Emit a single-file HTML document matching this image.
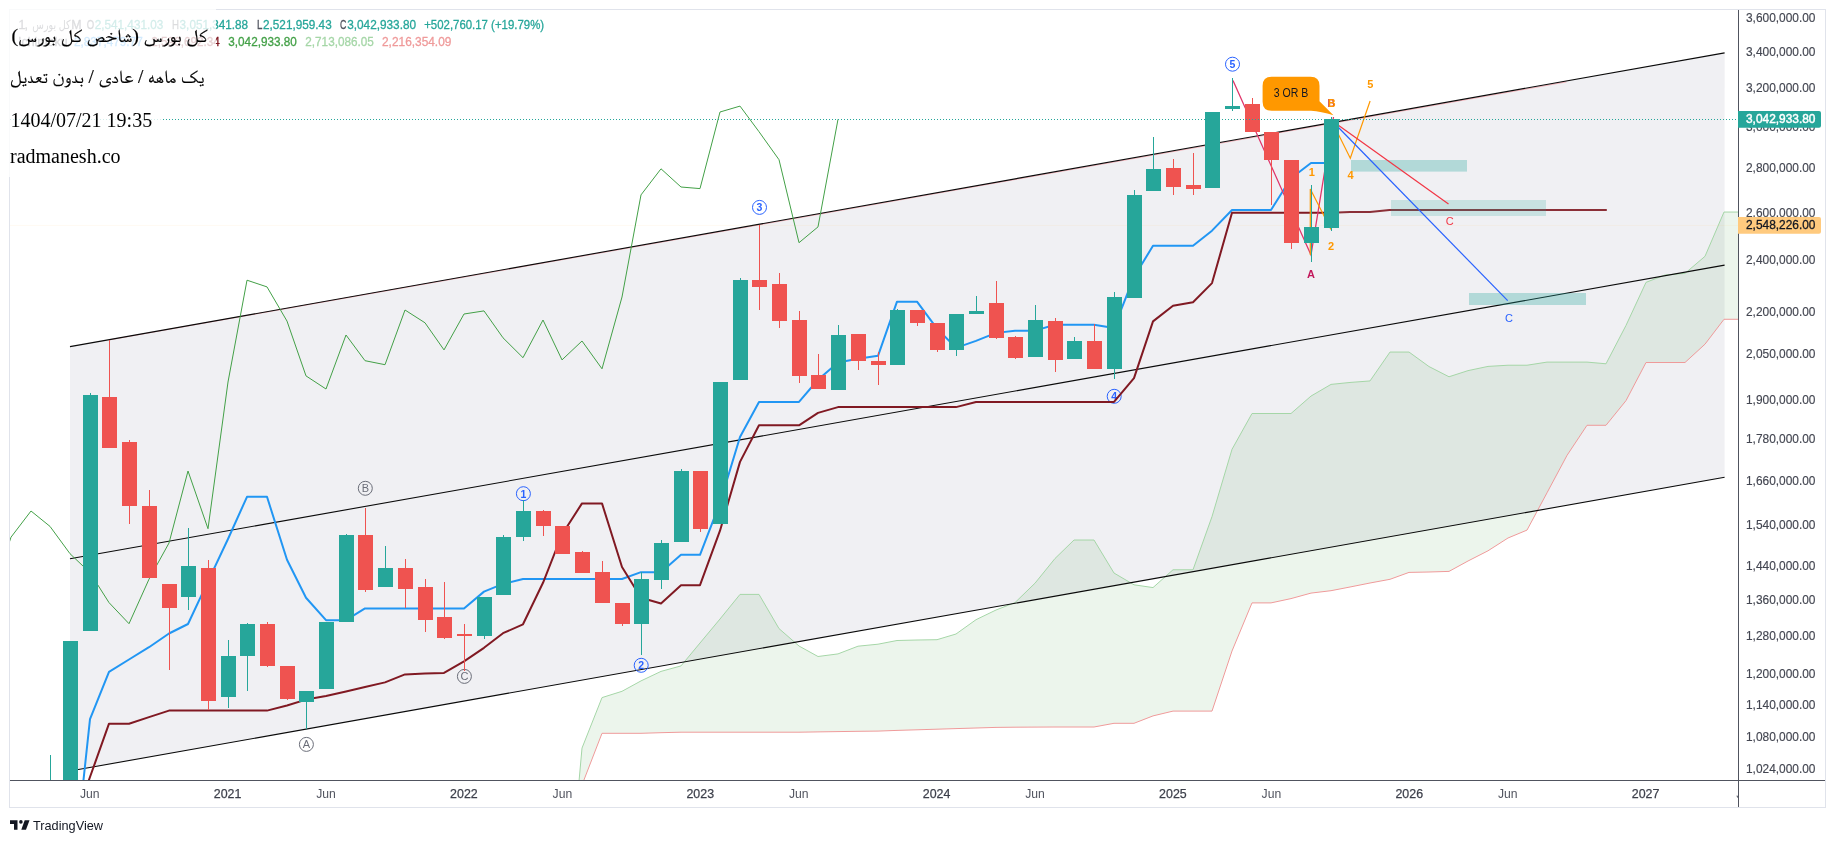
<!DOCTYPE html><html><head><meta charset="utf-8"><style>html,body{margin:0;padding:0;background:#fff;width:1836px;height:843px;overflow:hidden}svg{position:absolute;left:0;top:0;will-change:transform}</style></head><body>
<svg width="1836" height="843" viewBox="0 0 1836 843">
<defs><clipPath id="pane"><rect x="10" y="10" width="1728" height="770"/></clipPath></defs>
<g clip-path="url(#pane)">
<polygon points="70,346.6 1724.6,52.89 1724.6,477.29 70,771.0" fill="#f0f0f3"/>
<polygon points="562.00,970.00 582.00,748.10 602.00,697.60 622.00,691.30 641.00,680.90 661.00,671.40 681.00,665.90 700.00,643.00 720.00,619.00 740.00,594.40 759.00,594.40 779.00,628.60 799.00,646.00 818.00,656.50 838.00,653.90 858.00,646.20 878.00,644.20 897.00,640.50 917.00,640.00 937.00,639.70 956.00,634.00 976.00,619.70 996.00,610.00 1015.00,602.60 1035.00,583.20 1055.00,558.50 1074.00,540.03 1094.00,540.03 1114.00,573.04 1134.00,584.81 1153.00,587.58 1173.00,569.78 1193.00,569.78 1212.00,516.61 1232.00,449.32 1252.00,413.50 1271.00,413.50 1291.00,413.50 1311.00,396.07 1331.00,384.40 1350.00,382.46 1370.00,380.94 1390.00,352.05 1409.00,352.05 1429.00,366.55 1449.00,376.77 1468.00,370.64 1488.00,366.41 1508.00,365.23 1527.00,365.23 1547.00,362.10 1567.00,362.10 1587.00,362.10 1606.00,363.79 1626.00,325.42 1646.00,282.37 1665.00,274.99 1685.00,273.38 1705.00,256.31 1724.00,212.04 1744.00,212.04 1764.00,212.04 1784.00,195.86 1803.00,188.00 1823.00,188.00 1823.00,308.84 1803.00,319.28 1784.00,319.28 1764.00,319.28 1744.00,319.28 1724.00,319.28 1705.00,344.16 1685.00,362.50 1665.00,362.50 1646.00,362.50 1626.00,400.61 1606.00,425.29 1587.00,425.29 1567.00,455.40 1547.00,492.80 1527.00,530.10 1508.00,538.00 1488.00,550.80 1468.00,561.00 1449.00,571.40 1429.00,572.00 1409.00,572.40 1390.00,579.30 1370.00,583.00 1350.00,587.00 1331.00,590.70 1311.00,593.10 1291.00,598.60 1271.00,602.90 1252.00,602.90 1232.00,651.00 1212.00,711.10 1193.00,711.10 1173.00,711.10 1153.00,715.90 1134.00,723.30 1114.00,723.30 1094.00,727.00 1074.00,727.00 1055.00,727.00 1035.00,727.10 1015.00,727.20 996.00,727.40 976.00,728.00 956.00,728.60 937.00,729.20 917.00,729.80 897.00,730.40 878.00,731.10 858.00,731.30 838.00,731.60 818.00,731.90 799.00,732.20 779.00,732.20 759.00,732.20 740.00,732.20 720.00,732.20 700.00,732.20 681.00,732.20 661.00,732.70 641.00,733.30 622.00,733.30 602.00,733.30 582.00,785.00 562.00,900.00" fill="#43a047" fill-opacity="0.1"/>
<polyline points="562.00,970.00 582.00,748.10 602.00,697.60 622.00,691.30 641.00,680.90 661.00,671.40 681.00,665.90 700.00,643.00 720.00,619.00 740.00,594.40 759.00,594.40 779.00,628.60 799.00,646.00 818.00,656.50 838.00,653.90 858.00,646.20 878.00,644.20 897.00,640.50 917.00,640.00 937.00,639.70 956.00,634.00 976.00,619.70 996.00,610.00 1015.00,602.60 1035.00,583.20 1055.00,558.50 1074.00,540.03 1094.00,540.03 1114.00,573.04 1134.00,584.81 1153.00,587.58 1173.00,569.78 1193.00,569.78 1212.00,516.61 1232.00,449.32 1252.00,413.50 1271.00,413.50 1291.00,413.50 1311.00,396.07 1331.00,384.40 1350.00,382.46 1370.00,380.94 1390.00,352.05 1409.00,352.05 1429.00,366.55 1449.00,376.77 1468.00,370.64 1488.00,366.41 1508.00,365.23 1527.00,365.23 1547.00,362.10 1567.00,362.10 1587.00,362.10 1606.00,363.79 1626.00,325.42 1646.00,282.37 1665.00,274.99 1685.00,273.38 1705.00,256.31 1724.00,212.04 1744.00,212.04 1764.00,212.04 1784.00,195.86 1803.00,188.00 1823.00,188.00" fill="none" stroke="#a5d6a7" stroke-width="1"/>
<polyline points="562.00,900.00 582.00,785.00 602.00,733.30 622.00,733.30 641.00,733.30 661.00,732.70 681.00,732.20 700.00,732.20 720.00,732.20 740.00,732.20 759.00,732.20 779.00,732.20 799.00,732.20 818.00,731.90 838.00,731.60 858.00,731.30 878.00,731.10 897.00,730.40 917.00,729.80 937.00,729.20 956.00,728.60 976.00,728.00 996.00,727.40 1015.00,727.20 1035.00,727.10 1055.00,727.00 1074.00,727.00 1094.00,727.00 1114.00,723.30 1134.00,723.30 1153.00,715.90 1173.00,711.10 1193.00,711.10 1212.00,711.10 1232.00,651.00 1252.00,602.90 1271.00,602.90 1291.00,598.60 1311.00,593.10 1331.00,590.70 1350.00,587.00 1370.00,583.00 1390.00,579.30 1409.00,572.40 1429.00,572.00 1449.00,571.40 1468.00,561.00 1488.00,550.80 1508.00,538.00 1527.00,530.10 1547.00,492.80 1567.00,455.40 1587.00,425.29 1606.00,425.29 1626.00,400.61 1646.00,362.50 1665.00,362.50 1685.00,362.50 1705.00,344.16 1724.00,319.28 1744.00,319.28 1764.00,319.28 1784.00,319.28 1803.00,319.28 1823.00,308.84" fill="none" stroke="#ef9a9a" stroke-width="1"/>
<line x1="109.4" y1="339.9" x2="1566.5" y2="81.9" stroke="#f7525f" stroke-opacity="0.4" stroke-width="1"/>
<line x1="70" y1="346.6" x2="1724.6" y2="52.89" stroke="#0a0a0a" stroke-width="1.1"/>
<line x1="70" y1="558.8" x2="1724.6" y2="265.09" stroke="#0a0a0a" stroke-width="1.1"/>
<line x1="70" y1="771.0" x2="1724.6" y2="477.29" stroke="#0a0a0a" stroke-width="1.1"/>
<line x1="10" y1="225.4" x2="1738" y2="225.4" stroke="#ffb74d" stroke-opacity="0.07" stroke-width="1"/>
<circle cx="523.4" cy="493.7" r="7" fill="none" stroke="#2962ff" stroke-width="1"/>
<text x="523.4" y="497.7" font-family="Liberation Sans, DejaVu Sans, sans-serif" font-size="10.5" font-weight="bold" fill="#2962ff" text-anchor="middle">1</text>
<circle cx="641.2" cy="665.3" r="7" fill="none" stroke="#2962ff" stroke-width="1"/>
<text x="641.2" y="669.3" font-family="Liberation Sans, DejaVu Sans, sans-serif" font-size="10.5" font-weight="bold" fill="#2962ff" text-anchor="middle">2</text>
<circle cx="759.5" cy="207.4" r="7" fill="none" stroke="#2962ff" stroke-width="1"/>
<text x="759.5" y="211.4" font-family="Liberation Sans, DejaVu Sans, sans-serif" font-size="10.5" font-weight="bold" fill="#2962ff" text-anchor="middle">3</text>
<circle cx="1114.2" cy="396.3" r="7" fill="none" stroke="#2962ff" stroke-width="1"/>
<text x="1114.2" y="400.3" font-family="Liberation Sans, DejaVu Sans, sans-serif" font-size="10.5" font-weight="bold" fill="#2962ff" text-anchor="middle">4</text>
<circle cx="1232.5" cy="64.2" r="7" fill="none" stroke="#2962ff" stroke-width="1"/>
<text x="1232.5" y="68.2" font-family="Liberation Sans, DejaVu Sans, sans-serif" font-size="10.5" font-weight="bold" fill="#2962ff" text-anchor="middle">5</text>
<circle cx="306.4" cy="744.4" r="7" fill="none" stroke="#6a6d78" stroke-width="1"/>
<text x="306.4" y="748.4" font-family="Liberation Sans, DejaVu Sans, sans-serif" font-size="11" fill="#6a6d78" text-anchor="middle">A</text>
<circle cx="365.3" cy="488.3" r="7" fill="none" stroke="#6a6d78" stroke-width="1"/>
<text x="365.3" y="492.3" font-family="Liberation Sans, DejaVu Sans, sans-serif" font-size="11" fill="#6a6d78" text-anchor="middle">B</text>
<circle cx="464.4" cy="676.4" r="7" fill="none" stroke="#6a6d78" stroke-width="1"/>
<text x="464.4" y="680.4" font-family="Liberation Sans, DejaVu Sans, sans-serif" font-size="11" fill="#6a6d78" text-anchor="middle">C</text>
<polyline points="-9.00,597.10 11.00,537.20 31.00,511.00 50.00,526.40 70.00,553.70 90.00,572.70 109.00,602.60 129.00,623.70 149.00,579.20 169.00,543.00 188.00,471.00 208.00,528.70 228.00,382.00 247.00,280.20 267.00,286.90 287.00,321.10 306.00,375.90 326.00,389.00 346.00,335.00 365.00,360.70 385.00,364.70 405.00,310.00 425.00,322.80 444.00,349.90 464.00,314.00 484.00,310.90 503.00,337.80 523.00,357.70 543.00,320.00 562.00,359.90 582.00,341.00 602.00,368.80 622.00,297.00 641.00,194.90 661.00,168.80 681.00,187.00 700.00,188.60 720.00,112.00 740.00,106.10 759.00,131.70 779.00,159.70 799.00,242.70 818.00,226.90 838.00,119.30" fill="none" stroke="#43a047" stroke-width="1"/>
<polyline points="70.00,906.00 90.00,719.20 109.00,671.90 129.00,659.50 149.00,647.20 169.00,633.50 188.00,624.00 208.00,581.30 228.00,539.00 247.00,496.81 267.00,496.81 287.00,559.75 306.00,597.75 326.00,620.15 346.00,620.15 365.00,608.46 385.00,608.46 405.00,608.46 425.00,608.46 444.00,608.46 464.00,608.46 484.00,591.62 503.00,583.90 523.00,579.06 543.00,579.06 562.00,579.06 582.00,579.06 602.00,579.06 622.00,579.06 641.00,572.14 661.00,572.14 681.00,554.80 700.00,554.80 720.00,502.89 740.00,437.04 759.00,401.93 779.00,401.93 799.00,401.93 818.00,379.74 838.00,362.51 858.00,358.78 878.00,355.85 897.00,301.64 917.00,301.64 937.00,328.56 956.00,347.88 976.00,340.91 996.00,332.88 1015.00,330.65 1035.00,330.65 1055.00,324.77 1074.00,324.77 1094.00,324.77 1114.00,327.95 1134.00,276.96 1153.00,245.79 1173.00,245.79 1193.00,245.79 1212.00,230.67 1232.00,210.02 1252.00,210.02 1271.00,210.02 1291.00,178.19 1311.00,163.02 1331.00,163.02" fill="none" stroke="#2196f3" stroke-width="2" stroke-linejoin="round"/>
<polyline points="70.00,834.00 90.00,777.00 109.00,723.70 129.00,723.70 149.00,717.10 169.00,710.60 188.00,710.60 208.00,710.60 228.00,710.60 247.00,710.60 267.00,710.60 287.00,705.50 306.00,699.60 326.00,696.00 346.00,691.50 365.00,687.00 385.00,682.40 405.00,674.40 425.00,673.60 444.00,672.90 464.00,661.30 484.00,647.80 503.00,633.20 523.00,624.30 543.00,582.80 562.00,534.50 582.00,503.39 602.00,503.39 622.00,567.07 641.00,597.75 661.00,603.42 681.00,585.15 700.00,585.15 720.00,530.66 740.00,461.85 759.00,425.29 779.00,425.29 799.00,425.29 818.00,412.85 838.00,407.12 858.00,407.12 878.00,407.12 897.00,407.12 917.00,407.12 937.00,407.12 956.00,407.12 976.00,401.93 996.00,401.93 1015.00,401.93 1035.00,401.93 1055.00,401.93 1074.00,401.93 1094.00,401.93 1114.00,401.93 1134.00,378.17 1153.00,321.34 1173.00,305.69 1193.00,302.30 1212.00,283.10 1232.00,212.80 1252.00,212.80 1271.00,212.80 1291.00,212.80 1311.00,212.80 1331.00,212.80" fill="none" stroke="#801922" stroke-width="2" stroke-linejoin="round"/>
<polyline points="1331.5,212.8 1350,211.9 1370,211.9 1389.5,209.9 1606.8,209.9" fill="none" stroke="#801922" stroke-opacity="0.9" stroke-width="2"/>
<rect x="1351" y="160" width="116" height="11.6" fill="#26a69a" fill-opacity="0.3"/>
<rect x="1391" y="200" width="155" height="16" fill="#26a69a" fill-opacity="0.2"/>
<rect x="1469" y="293" width="117" height="12" fill="#26a69a" fill-opacity="0.3"/>
<polyline points="1233,80.5 1311,255 1333.5,117" fill="none" stroke="#e0356a" stroke-width="1.3"/>
<polyline points="1310.3,255 1310.3,189 1331,229.5 1333.5,124.5 1350.3,158.2 1370.1,101" fill="none" stroke="#ff9800" stroke-width="1.2"/>
<line x1="1338" y1="125" x2="1448.5" y2="204.1" stroke="#f23645" stroke-width="1.2"/>
<line x1="1338" y1="127" x2="1507.7" y2="300.6" stroke="#2962ff" stroke-width="1.2"/>
<rect x="50" y="755" width="1" height="145" fill="#26a69a"/>
<rect x="43" y="800" width="15" height="100" fill="#26a69a"/>
<rect x="70" y="641" width="1" height="259" fill="#26a69a"/>
<rect x="63" y="641" width="15" height="259" fill="#26a69a"/>
<rect x="90" y="393" width="1" height="238" fill="#26a69a"/>
<rect x="83" y="395" width="15" height="236" fill="#26a69a"/>
<rect x="109" y="340" width="1" height="108" fill="#ef5350"/>
<rect x="102" y="397" width="15" height="51" fill="#ef5350"/>
<rect x="129" y="440" width="1" height="84" fill="#ef5350"/>
<rect x="122" y="442" width="15" height="64" fill="#ef5350"/>
<rect x="149" y="490" width="1" height="88" fill="#ef5350"/>
<rect x="142" y="506" width="15" height="72" fill="#ef5350"/>
<rect x="169" y="584" width="1" height="86" fill="#ef5350"/>
<rect x="162" y="584" width="15" height="24" fill="#ef5350"/>
<rect x="188" y="528" width="1" height="82" fill="#26a69a"/>
<rect x="181" y="566" width="15" height="31" fill="#26a69a"/>
<rect x="208" y="560" width="1" height="150" fill="#ef5350"/>
<rect x="201" y="568" width="15" height="133" fill="#ef5350"/>
<rect x="228" y="640" width="1" height="68" fill="#26a69a"/>
<rect x="221" y="656" width="15" height="41" fill="#26a69a"/>
<rect x="247" y="623" width="1" height="68" fill="#26a69a"/>
<rect x="240" y="624" width="15" height="32" fill="#26a69a"/>
<rect x="267" y="622" width="1" height="45" fill="#ef5350"/>
<rect x="260" y="624" width="15" height="42" fill="#ef5350"/>
<rect x="287" y="666" width="1" height="34" fill="#ef5350"/>
<rect x="280" y="666" width="15" height="33" fill="#ef5350"/>
<rect x="306" y="691" width="1" height="38" fill="#26a69a"/>
<rect x="299" y="691" width="15" height="11" fill="#26a69a"/>
<rect x="326" y="622" width="1" height="67" fill="#26a69a"/>
<rect x="319" y="622" width="15" height="67" fill="#26a69a"/>
<rect x="346" y="534" width="1" height="88" fill="#26a69a"/>
<rect x="339" y="535" width="15" height="87" fill="#26a69a"/>
<rect x="365" y="508" width="1" height="84" fill="#ef5350"/>
<rect x="358" y="535" width="15" height="55" fill="#ef5350"/>
<rect x="385" y="546" width="1" height="41" fill="#26a69a"/>
<rect x="378" y="568" width="15" height="19" fill="#26a69a"/>
<rect x="405" y="559" width="1" height="49" fill="#ef5350"/>
<rect x="398" y="568" width="15" height="21" fill="#ef5350"/>
<rect x="425" y="579" width="1" height="53" fill="#ef5350"/>
<rect x="418" y="587" width="15" height="33" fill="#ef5350"/>
<rect x="444" y="582" width="1" height="57" fill="#ef5350"/>
<rect x="437" y="617" width="15" height="21" fill="#ef5350"/>
<rect x="464" y="624" width="1" height="47" fill="#ef5350"/>
<rect x="457" y="634" width="15" height="2" fill="#ef5350"/>
<rect x="484" y="597" width="1" height="42" fill="#26a69a"/>
<rect x="477" y="597" width="15" height="39" fill="#26a69a"/>
<rect x="503" y="535" width="1" height="60" fill="#26a69a"/>
<rect x="496" y="537" width="15" height="58" fill="#26a69a"/>
<rect x="523" y="500" width="1" height="41" fill="#26a69a"/>
<rect x="516" y="511" width="15" height="26" fill="#26a69a"/>
<rect x="543" y="510" width="1" height="26" fill="#ef5350"/>
<rect x="536" y="511" width="15" height="15" fill="#ef5350"/>
<rect x="562" y="526" width="1" height="28" fill="#ef5350"/>
<rect x="555" y="526" width="15" height="28" fill="#ef5350"/>
<rect x="582" y="551" width="1" height="22" fill="#ef5350"/>
<rect x="575" y="552" width="15" height="21" fill="#ef5350"/>
<rect x="602" y="561" width="1" height="42" fill="#ef5350"/>
<rect x="595" y="572" width="15" height="31" fill="#ef5350"/>
<rect x="622" y="603" width="1" height="23" fill="#ef5350"/>
<rect x="615" y="603" width="15" height="21" fill="#ef5350"/>
<rect x="641" y="572" width="1" height="83" fill="#26a69a"/>
<rect x="634" y="579" width="15" height="45" fill="#26a69a"/>
<rect x="661" y="540" width="1" height="49" fill="#26a69a"/>
<rect x="654" y="543" width="15" height="37" fill="#26a69a"/>
<rect x="681" y="469" width="1" height="73" fill="#26a69a"/>
<rect x="674" y="471" width="15" height="71" fill="#26a69a"/>
<rect x="700" y="471" width="1" height="61" fill="#ef5350"/>
<rect x="693" y="471" width="15" height="58" fill="#ef5350"/>
<rect x="720" y="382" width="1" height="142" fill="#26a69a"/>
<rect x="713" y="382" width="15" height="142" fill="#26a69a"/>
<rect x="740" y="278" width="1" height="102" fill="#26a69a"/>
<rect x="733" y="280" width="15" height="100" fill="#26a69a"/>
<rect x="759" y="225" width="1" height="85" fill="#ef5350"/>
<rect x="752" y="280" width="15" height="7" fill="#ef5350"/>
<rect x="779" y="273" width="1" height="55" fill="#ef5350"/>
<rect x="772" y="284" width="15" height="37" fill="#ef5350"/>
<rect x="799" y="311" width="1" height="72" fill="#ef5350"/>
<rect x="792" y="320" width="15" height="56" fill="#ef5350"/>
<rect x="818" y="354" width="1" height="35" fill="#ef5350"/>
<rect x="811" y="375" width="15" height="14" fill="#ef5350"/>
<rect x="838" y="325" width="1" height="65" fill="#26a69a"/>
<rect x="831" y="335" width="15" height="55" fill="#26a69a"/>
<rect x="858" y="334" width="1" height="36" fill="#ef5350"/>
<rect x="851" y="334" width="15" height="27" fill="#ef5350"/>
<rect x="878" y="352" width="1" height="33" fill="#ef5350"/>
<rect x="871" y="361" width="15" height="4" fill="#ef5350"/>
<rect x="897" y="309" width="1" height="56" fill="#26a69a"/>
<rect x="890" y="310" width="15" height="55" fill="#26a69a"/>
<rect x="917" y="310" width="1" height="16" fill="#ef5350"/>
<rect x="910" y="310" width="15" height="13" fill="#ef5350"/>
<rect x="937" y="323" width="1" height="29" fill="#ef5350"/>
<rect x="930" y="323" width="15" height="27" fill="#ef5350"/>
<rect x="956" y="314" width="1" height="42" fill="#26a69a"/>
<rect x="949" y="314" width="15" height="36" fill="#26a69a"/>
<rect x="976" y="296" width="1" height="18" fill="#26a69a"/>
<rect x="969" y="311" width="15" height="3" fill="#26a69a"/>
<rect x="996" y="281" width="1" height="58" fill="#ef5350"/>
<rect x="989" y="303" width="15" height="35" fill="#ef5350"/>
<rect x="1015" y="336" width="1" height="23" fill="#ef5350"/>
<rect x="1008" y="337" width="15" height="21" fill="#ef5350"/>
<rect x="1035" y="305" width="1" height="52" fill="#26a69a"/>
<rect x="1028" y="320" width="15" height="37" fill="#26a69a"/>
<rect x="1055" y="318" width="1" height="54" fill="#ef5350"/>
<rect x="1048" y="321" width="15" height="39" fill="#ef5350"/>
<rect x="1074" y="337" width="1" height="22" fill="#26a69a"/>
<rect x="1067" y="341" width="15" height="18" fill="#26a69a"/>
<rect x="1094" y="324" width="1" height="45" fill="#ef5350"/>
<rect x="1087" y="341" width="15" height="28" fill="#ef5350"/>
<rect x="1114" y="292" width="1" height="87" fill="#26a69a"/>
<rect x="1107" y="297" width="15" height="72" fill="#26a69a"/>
<rect x="1134" y="190" width="1" height="108" fill="#26a69a"/>
<rect x="1127" y="195" width="15" height="103" fill="#26a69a"/>
<rect x="1153" y="137" width="1" height="54" fill="#26a69a"/>
<rect x="1146" y="169" width="15" height="22" fill="#26a69a"/>
<rect x="1173" y="159" width="1" height="36" fill="#ef5350"/>
<rect x="1166" y="168" width="15" height="19" fill="#ef5350"/>
<rect x="1193" y="153" width="1" height="42" fill="#ef5350"/>
<rect x="1186" y="185" width="15" height="4" fill="#ef5350"/>
<rect x="1212" y="112" width="1" height="76" fill="#26a69a"/>
<rect x="1205" y="112" width="15" height="76" fill="#26a69a"/>
<rect x="1232" y="78" width="1" height="33" fill="#26a69a"/>
<rect x="1225" y="106" width="15" height="3" fill="#26a69a"/>
<rect x="1252" y="98" width="1" height="34" fill="#ef5350"/>
<rect x="1245" y="104" width="15" height="28" fill="#ef5350"/>
<rect x="1271" y="132" width="1" height="73" fill="#ef5350"/>
<rect x="1264" y="132" width="15" height="28" fill="#ef5350"/>
<rect x="1291" y="160" width="1" height="89" fill="#ef5350"/>
<rect x="1284" y="160" width="15" height="83" fill="#ef5350"/>
<rect x="1311" y="185" width="1" height="77" fill="#26a69a"/>
<rect x="1304" y="227" width="15" height="16" fill="#26a69a"/>
<rect x="1331" y="117" width="1" height="114" fill="#26a69a"/>
<rect x="1324" y="119" width="15" height="109" fill="#26a69a"/>
<line x1="10" y1="119.5" x2="1738" y2="119.5" stroke="#26a69a" stroke-width="1" stroke-dasharray="1 2"/>
</g>
<text x="1311.9" y="175.9" font-family="Liberation Sans, DejaVu Sans, sans-serif" font-size="11" fill="#ff9800" text-anchor="middle" font-weight="bold">1</text>
<text x="1331" y="250" font-family="Liberation Sans, DejaVu Sans, sans-serif" font-size="11" fill="#ff9800" text-anchor="middle" font-weight="bold">2</text>
<text x="1350.5" y="179.3" font-family="Liberation Sans, DejaVu Sans, sans-serif" font-size="11" fill="#ff9800" text-anchor="middle" font-weight="bold">4</text>
<text x="1370.3" y="88" font-family="Liberation Sans, DejaVu Sans, sans-serif" font-size="11" fill="#ff9800" text-anchor="middle" font-weight="bold">5</text>
<text x="1331.2" y="106.9" font-family="Liberation Sans, DejaVu Sans, sans-serif" font-size="10.5" fill="#c2185b" text-anchor="middle" font-weight="bold">B</text>
<text x="1331.9" y="106.9" font-family="Liberation Sans, DejaVu Sans, sans-serif" font-size="10.5" fill="#ff9800" text-anchor="middle" font-weight="bold">B</text>
<text x="1311.1" y="277.6" font-family="Liberation Sans, DejaVu Sans, sans-serif" font-size="11" fill="#c2185b" text-anchor="middle" font-weight="bold">A</text>
<text x="1449.7" y="225.3" font-family="Liberation Sans, DejaVu Sans, sans-serif" font-size="11" fill="#f23645" text-anchor="middle">C</text>
<text x="1509" y="321.9" font-family="Liberation Sans, DejaVu Sans, sans-serif" font-size="11" fill="#2962ff" text-anchor="middle">C</text>
<path d="M1271.6,76.8 H1310.5 Q1319.5,76.8 1319.5,85.8 V101.3 L1333.5,115.3 Q1321,111.4 1311,110.7 H1271.6 Q1262.6,110.7 1262.6,101.7 V85.8 Q1262.6,76.8 1271.6,76.8 Z" fill="#ff9800"/>
<text x="1273.8" y="96.8" font-family="Liberation Sans, DejaVu Sans, sans-serif" font-size="12" fill="#131722" textLength="34.6" lengthAdjust="spacingAndGlyphs">3 OR B</text>
<rect x="9.5" y="9.5" width="1816" height="798" fill="none" stroke="#e0e3eb" stroke-width="1"/>
<line x1="1738.5" y1="10" x2="1738.5" y2="807" stroke="#50535e" stroke-width="1"/>
<line x1="10" y1="780.5" x2="1825" y2="780.5" stroke="#50535e" stroke-width="1"/>
<text x="1746" y="22.11" font-family="Liberation Sans, DejaVu Sans, sans-serif" font-size="12.4" fill="#434651" stroke="#434651" stroke-width="0.15" textLength="69.5" lengthAdjust="spacingAndGlyphs">3,600,000.00</text>
<text x="1746" y="56.11" font-family="Liberation Sans, DejaVu Sans, sans-serif" font-size="12.4" fill="#434651" stroke="#434651" stroke-width="0.15" textLength="69.5" lengthAdjust="spacingAndGlyphs">3,400,000.00</text>
<text x="1746" y="92.11" font-family="Liberation Sans, DejaVu Sans, sans-serif" font-size="12.4" fill="#434651" stroke="#434651" stroke-width="0.15" textLength="69.5" lengthAdjust="spacingAndGlyphs">3,200,000.00</text>
<text x="1746" y="131.11" font-family="Liberation Sans, DejaVu Sans, sans-serif" font-size="12.4" fill="#434651" stroke="#434651" stroke-width="0.15" textLength="69.5" lengthAdjust="spacingAndGlyphs">3,000,000.00</text>
<text x="1746" y="172.11" font-family="Liberation Sans, DejaVu Sans, sans-serif" font-size="12.4" fill="#434651" stroke="#434651" stroke-width="0.15" textLength="69.5" lengthAdjust="spacingAndGlyphs">2,800,000.00</text>
<text x="1746" y="217.11" font-family="Liberation Sans, DejaVu Sans, sans-serif" font-size="12.4" fill="#434651" stroke="#434651" stroke-width="0.15" textLength="69.5" lengthAdjust="spacingAndGlyphs">2,600,000.00</text>
<text x="1746" y="264.11" font-family="Liberation Sans, DejaVu Sans, sans-serif" font-size="12.4" fill="#434651" stroke="#434651" stroke-width="0.15" textLength="69.5" lengthAdjust="spacingAndGlyphs">2,400,000.00</text>
<text x="1746" y="316.11" font-family="Liberation Sans, DejaVu Sans, sans-serif" font-size="12.4" fill="#434651" stroke="#434651" stroke-width="0.15" textLength="69.5" lengthAdjust="spacingAndGlyphs">2,200,000.00</text>
<text x="1746" y="358.11" font-family="Liberation Sans, DejaVu Sans, sans-serif" font-size="12.4" fill="#434651" stroke="#434651" stroke-width="0.15" textLength="69.5" lengthAdjust="spacingAndGlyphs">2,050,000.00</text>
<text x="1746" y="404.11" font-family="Liberation Sans, DejaVu Sans, sans-serif" font-size="12.4" fill="#434651" stroke="#434651" stroke-width="0.15" textLength="69.5" lengthAdjust="spacingAndGlyphs">1,900,000.00</text>
<text x="1746" y="443.11" font-family="Liberation Sans, DejaVu Sans, sans-serif" font-size="12.4" fill="#434651" stroke="#434651" stroke-width="0.15" textLength="69.5" lengthAdjust="spacingAndGlyphs">1,780,000.00</text>
<text x="1746" y="485.11" font-family="Liberation Sans, DejaVu Sans, sans-serif" font-size="12.4" fill="#434651" stroke="#434651" stroke-width="0.15" textLength="69.5" lengthAdjust="spacingAndGlyphs">1,660,000.00</text>
<text x="1746" y="529.11" font-family="Liberation Sans, DejaVu Sans, sans-serif" font-size="12.4" fill="#434651" stroke="#434651" stroke-width="0.15" textLength="69.5" lengthAdjust="spacingAndGlyphs">1,540,000.00</text>
<text x="1746" y="570.11" font-family="Liberation Sans, DejaVu Sans, sans-serif" font-size="12.4" fill="#434651" stroke="#434651" stroke-width="0.15" textLength="69.5" lengthAdjust="spacingAndGlyphs">1,440,000.00</text>
<text x="1746" y="604.11" font-family="Liberation Sans, DejaVu Sans, sans-serif" font-size="12.4" fill="#434651" stroke="#434651" stroke-width="0.15" textLength="69.5" lengthAdjust="spacingAndGlyphs">1,360,000.00</text>
<text x="1746" y="640.11" font-family="Liberation Sans, DejaVu Sans, sans-serif" font-size="12.4" fill="#434651" stroke="#434651" stroke-width="0.15" textLength="69.5" lengthAdjust="spacingAndGlyphs">1,280,000.00</text>
<text x="1746" y="678.11" font-family="Liberation Sans, DejaVu Sans, sans-serif" font-size="12.4" fill="#434651" stroke="#434651" stroke-width="0.15" textLength="69.5" lengthAdjust="spacingAndGlyphs">1,200,000.00</text>
<text x="1746" y="709.11" font-family="Liberation Sans, DejaVu Sans, sans-serif" font-size="12.4" fill="#434651" stroke="#434651" stroke-width="0.15" textLength="69.5" lengthAdjust="spacingAndGlyphs">1,140,000.00</text>
<text x="1746" y="741.11" font-family="Liberation Sans, DejaVu Sans, sans-serif" font-size="12.4" fill="#434651" stroke="#434651" stroke-width="0.15" textLength="69.5" lengthAdjust="spacingAndGlyphs">1,080,000.00</text>
<text x="1746" y="773.11" font-family="Liberation Sans, DejaVu Sans, sans-serif" font-size="12.4" fill="#434651" stroke="#434651" stroke-width="0.15" textLength="69.5" lengthAdjust="spacingAndGlyphs">1,024,000.00</text>
<path d="M1738,111 H1819 Q1821,111 1821,113 V125.8 Q1821,127.8 1819,127.8 H1738 Z" fill="#26a69a"/>
<text x="1746" y="122.85" font-family="Liberation Sans, DejaVu Sans, sans-serif" font-size="12.4" fill="#fff" stroke="#fff" stroke-width="0.45" textLength="69.5" lengthAdjust="spacingAndGlyphs">3,042,933.80</text>
<path d="M1738,217.1 H1819 Q1821,217.1 1821,219.1 V231.7 Q1821,233.7 1819,233.7 H1738 Z" fill="#ffca7e"/>
<text x="1746" y="228.85" font-family="Liberation Sans, DejaVu Sans, sans-serif" font-size="12.4" fill="#131722" stroke="#131722" stroke-width="0.3" textLength="69.5" lengthAdjust="spacingAndGlyphs">2,548,226.00</text>
<text x="79.90" y="798" font-family="Liberation Sans, DejaVu Sans, sans-serif" font-size="12.6" fill="#50535e" textLength="19.6" lengthAdjust="spacingAndGlyphs">Jun</text>
<text x="213.77" y="798" font-family="Liberation Sans, DejaVu Sans, sans-serif" font-size="12.6" fill="#3c3f4a" stroke="#3c3f4a" stroke-width="0.25" textLength="27.6" lengthAdjust="spacingAndGlyphs">2021</text>
<text x="316.24" y="798" font-family="Liberation Sans, DejaVu Sans, sans-serif" font-size="12.6" fill="#50535e" textLength="19.6" lengthAdjust="spacingAndGlyphs">Jun</text>
<text x="450.10" y="798" font-family="Liberation Sans, DejaVu Sans, sans-serif" font-size="12.6" fill="#3c3f4a" stroke="#3c3f4a" stroke-width="0.25" textLength="27.6" lengthAdjust="spacingAndGlyphs">2022</text>
<text x="552.58" y="798" font-family="Liberation Sans, DejaVu Sans, sans-serif" font-size="12.6" fill="#50535e" textLength="19.6" lengthAdjust="spacingAndGlyphs">Jun</text>
<text x="686.44" y="798" font-family="Liberation Sans, DejaVu Sans, sans-serif" font-size="12.6" fill="#3c3f4a" stroke="#3c3f4a" stroke-width="0.25" textLength="27.6" lengthAdjust="spacingAndGlyphs">2023</text>
<text x="788.91" y="798" font-family="Liberation Sans, DejaVu Sans, sans-serif" font-size="12.6" fill="#50535e" textLength="19.6" lengthAdjust="spacingAndGlyphs">Jun</text>
<text x="922.78" y="798" font-family="Liberation Sans, DejaVu Sans, sans-serif" font-size="12.6" fill="#3c3f4a" stroke="#3c3f4a" stroke-width="0.25" textLength="27.6" lengthAdjust="spacingAndGlyphs">2024</text>
<text x="1025.25" y="798" font-family="Liberation Sans, DejaVu Sans, sans-serif" font-size="12.6" fill="#50535e" textLength="19.6" lengthAdjust="spacingAndGlyphs">Jun</text>
<text x="1159.11" y="798" font-family="Liberation Sans, DejaVu Sans, sans-serif" font-size="12.6" fill="#3c3f4a" stroke="#3c3f4a" stroke-width="0.25" textLength="27.6" lengthAdjust="spacingAndGlyphs">2025</text>
<text x="1261.59" y="798" font-family="Liberation Sans, DejaVu Sans, sans-serif" font-size="12.6" fill="#50535e" textLength="19.6" lengthAdjust="spacingAndGlyphs">Jun</text>
<text x="1395.45" y="798" font-family="Liberation Sans, DejaVu Sans, sans-serif" font-size="12.6" fill="#3c3f4a" stroke="#3c3f4a" stroke-width="0.25" textLength="27.6" lengthAdjust="spacingAndGlyphs">2026</text>
<text x="1497.92" y="798" font-family="Liberation Sans, DejaVu Sans, sans-serif" font-size="12.6" fill="#50535e" textLength="19.6" lengthAdjust="spacingAndGlyphs">Jun</text>
<text x="1631.79" y="798" font-family="Liberation Sans, DejaVu Sans, sans-serif" font-size="12.6" fill="#3c3f4a" stroke="#3c3f4a" stroke-width="0.25" textLength="27.6" lengthAdjust="spacingAndGlyphs">2027</text>
<clipPath id="tclip"><rect x="10" y="781" width="1728" height="26"/></clipPath>
<text clip-path="url(#tclip)" x="1736.3" y="798" font-family="Liberation Sans, DejaVu Sans, sans-serif" font-size="12.6" fill="#50535e" textLength="18.7" lengthAdjust="spacingAndGlyphs">Jun</text>
<text x="18.5" y="29.0" font-family="Liberation Sans, DejaVu Sans, sans-serif" font-size="12.4" fill="#50535e" stroke="#50535e" stroke-width="0.3">1</text>
<text x="24.5" y="29.0" font-family="Liberation Sans, DejaVu Sans, sans-serif" font-size="12.4" fill="#50535e" stroke="#50535e" stroke-width="0.3">,</text>
<text x="70.6" y="29.0" font-family="Liberation Sans, DejaVu Sans, sans-serif" font-size="12.4" fill="#50535e" direction="rtl" textLength="38.3" lengthAdjust="spacingAndGlyphs">کل بورس</text>
<text x="71.2" y="29.0" font-family="Liberation Sans, DejaVu Sans, sans-serif" font-size="12.4" fill="#50535e" stroke="#50535e" stroke-width="0.3">M</text>
<text x="86.7" y="29.0" font-family="Liberation Sans, DejaVu Sans, sans-serif" font-size="12.4" fill="#50535e" stroke="#50535e" stroke-width="0.3" textLength="7.4" lengthAdjust="spacingAndGlyphs">O</text>
<text x="94.7" y="29.0" font-family="Liberation Sans, DejaVu Sans, sans-serif" font-size="12.4" fill="#26a69a" stroke="#26a69a" stroke-width="0.3" textLength="68.6" lengthAdjust="spacingAndGlyphs">2,541,431.03</text>
<text x="171.9" y="29.0" font-family="Liberation Sans, DejaVu Sans, sans-serif" font-size="12.4" fill="#50535e" stroke="#50535e" stroke-width="0.3" textLength="7" lengthAdjust="spacingAndGlyphs">H</text>
<text x="179.6" y="29.0" font-family="Liberation Sans, DejaVu Sans, sans-serif" font-size="12.4" fill="#26a69a" stroke="#26a69a" stroke-width="0.3" textLength="68.5" lengthAdjust="spacingAndGlyphs">3,051,341.88</text>
<text x="256.9" y="29.0" font-family="Liberation Sans, DejaVu Sans, sans-serif" font-size="12.4" fill="#50535e" stroke="#50535e" stroke-width="0.3" textLength="5.4" lengthAdjust="spacingAndGlyphs">L</text>
<text x="263" y="29.0" font-family="Liberation Sans, DejaVu Sans, sans-serif" font-size="12.4" fill="#26a69a" stroke="#26a69a" stroke-width="0.3" textLength="68.7" lengthAdjust="spacingAndGlyphs">2,521,959.43</text>
<text x="340.1" y="29.0" font-family="Liberation Sans, DejaVu Sans, sans-serif" font-size="12.4" fill="#50535e" stroke="#50535e" stroke-width="0.3" textLength="6.4" lengthAdjust="spacingAndGlyphs">C</text>
<text x="347.2" y="29.0" font-family="Liberation Sans, DejaVu Sans, sans-serif" font-size="12.4" fill="#26a69a" stroke="#26a69a" stroke-width="0.3" textLength="68.9" lengthAdjust="spacingAndGlyphs">3,042,933.80</text>
<text x="424.2" y="29.0" font-family="Liberation Sans, DejaVu Sans, sans-serif" font-size="12.4" fill="#26a69a" stroke="#26a69a" stroke-width="0.3" textLength="119.9" lengthAdjust="spacingAndGlyphs">+502,760.17 (+19.79%)</text>
<text x="18" y="46.3" font-family="Liberation Sans, DejaVu Sans, sans-serif" font-size="12.4" fill="#50535e" stroke="#50535e" stroke-width="0.3">Ichimoku</text>
<text x="74" y="46.3" font-family="Liberation Sans, DejaVu Sans, sans-serif" font-size="12.4" fill="#2196f3" stroke="#2196f3" stroke-width="0.3" textLength="68.7" lengthAdjust="spacingAndGlyphs">2,837,479.77</text>
<text x="151.3" y="46.3" font-family="Liberation Sans, DejaVu Sans, sans-serif" font-size="12.4" fill="#801922" stroke="#801922" stroke-width="0.3" textLength="68.5" lengthAdjust="spacingAndGlyphs">2,590,692.34</text>
<text x="228.3" y="46.3" font-family="Liberation Sans, DejaVu Sans, sans-serif" font-size="12.4" fill="#43a047" stroke="#43a047" stroke-width="0.3" textLength="68.5" lengthAdjust="spacingAndGlyphs">3,042,933.80</text>
<text x="305.3" y="46.3" font-family="Liberation Sans, DejaVu Sans, sans-serif" font-size="12.4" fill="#a5d6a7" stroke="#a5d6a7" stroke-width="0.3" textLength="68.5" lengthAdjust="spacingAndGlyphs">2,713,086.05</text>
<text x="382" y="46.3" font-family="Liberation Sans, DejaVu Sans, sans-serif" font-size="12.4" fill="#ef9a9a" stroke="#ef9a9a" stroke-width="0.3" textLength="69.4" lengthAdjust="spacingAndGlyphs">2,216,354.09</text>
<rect x="0" y="0" width="216" height="57" fill="#fff" fill-opacity="0.8"/>
<rect x="0" y="57" width="162" height="120" fill="#fff" fill-opacity="0.8"/>
<text x="207.3" y="42.3" font-family="Liberation Serif, FreeSerif, DejaVu Serif, serif" font-size="18" fill="#000" stroke="#000" stroke-width="0.2" direction="rtl" textLength="195.7" lengthAdjust="spacingAndGlyphs">کل بورس (شاخص کل بورس)</text>
<text x="204.2" y="82.5" font-family="Liberation Serif, FreeSerif, DejaVu Serif, serif" font-size="18" fill="#000" stroke="#000" stroke-width="0.2" direction="rtl" textLength="194.2" lengthAdjust="spacingAndGlyphs">یک ماهه / عادی / بدون تعدیل</text>
<text x="10.5" y="126.5" font-family="Liberation Serif, FreeSerif, DejaVu Serif, serif" font-size="20" fill="#000">1404/07/21 19:35</text>
<text x="10" y="162.9" font-family="Liberation Serif, FreeSerif, DejaVu Serif, serif" font-size="20" fill="#000">radmanesh.co</text>
<g fill="#131722"><path d="M10,820.3 H17.5 V829.7 H14 V824 H10 Z"/><circle cx="20.9" cy="821.9" r="1.8"/><path d="M24.7,820.3 H29.5 L26,829.7 H21.3 Z"/></g>
<text x="33" y="829.7" font-family="Liberation Sans, DejaVu Sans, sans-serif" font-size="12.4" fill="#131722" textLength="70" lengthAdjust="spacingAndGlyphs">TradingView</text>
</svg></body></html>
